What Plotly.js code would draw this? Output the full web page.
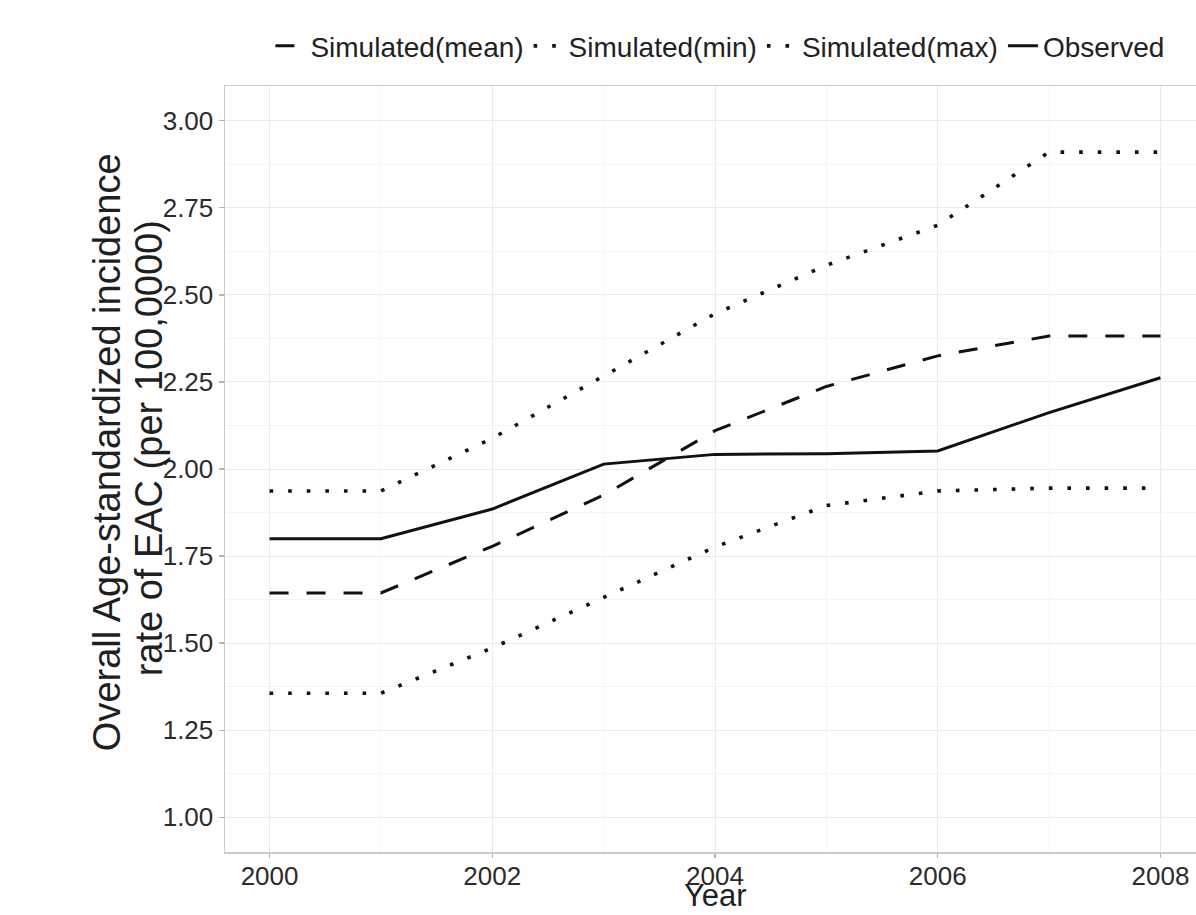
<!DOCTYPE html>
<html>
<head>
<meta charset="utf-8">
<script src="https://cdn.plot.ly/plotly-3.0.1.min.js"></script>
<style>
html, body { margin: 0; padding: 0; overflow: hidden; background: #fff; }
#chart { width: 1210px; height: 915px; }
</style>
</head>
<body>
<div id="chart"></div>
<script>
const years = [2000, 2001, 2002, 2003, 2004, 2005, 2006, 2007, 2008];
const simMean = [1.644, 1.644, 1.778, 1.925, 2.11, 2.237, 2.325, 2.382, 2.382];
const simMin  = [1.356, 1.356, 1.486, 1.63, 1.776, 1.895, 1.937, 1.945, 1.945];
const simMax  = [1.937, 1.937, 2.088, 2.268, 2.446, 2.585, 2.70, 2.91, 2.91];
const observed = [1.80, 1.80, 1.885, 2.014, 2.042, 2.044, 2.052, 2.162, 2.262];
const seriesNames = ["Simulated(mean)", "Simulated(min)", "Simulated(max)", "Observed"];
const xTicks = [2000, 2002, 2004, 2006, 2008];
const yTicks = [1.00, 1.25, 1.50, 1.75, 2.00, 2.25, 2.50, 2.75, 3.00];
const xTitle = "Year";
const yTitleLines = ["Overall Age-standardized incidence", "rate of EAC (per 100,0000)"];

const ink = "#111111";
const traces = [
  {x: years, y: simMean, name: seriesNames[0], mode: "lines", line: {color: ink, width: 3, dash: "19px,18px"}},
  {x: years, y: simMin, name: seriesNames[1], mode: "lines", line: {color: ink, width: 3.6, dash: "3.6px,15px"}},
  {x: years, y: simMax, name: seriesNames[2], mode: "lines", line: {color: ink, width: 3.6, dash: "3.6px,15px"}},
  {x: years, y: observed, name: seriesNames[3], mode: "lines", line: {color: ink, width: 3}}
];

const titleFont = {size: 38, color: "#1f1f1f"};
const layout = {
  width: 1210, height: 915,
  margin: {l: 225, r: 5, t: 86, b: 63, pad: 0},
  paper_bgcolor: "#ffffff",
  plot_bgcolor: "#ffffff",
  font: {family: "Liberation Sans, Arial, sans-serif", color: "#2b2b2b"},
  showlegend: true,
  legend: {
    orientation: "h", x: 0.505, xanchor: "center", y: 1.052, yanchor: "middle",
    font: {size: 28, color: "#222222"}, itemwidth: 30, tracegroupgap: 0,
    bgcolor: "rgba(0,0,0,0)"
  },
  xaxis: {
    range: [1999.6, 2008.4],
    tickvals: xTicks, ticktext: xTicks.map(String),
    ticks: "outside", ticklen: 4, tickwidth: 1.2, tickcolor: "#b3b3b3",
    ticklabelstandoff: -4,
    tickfont: {size: 26, color: "#2b2b2b"},
    showgrid: true, gridcolor: "#ebebeb", gridwidth: 1,
    minor: {dtick: 1, tick0: 2001, showgrid: true, gridcolor: "#f5f5f5", gridwidth: 1, ticks: ""},
    showline: true, linecolor: "#cccccc", linewidth: 1.5, mirror: true,
    zeroline: false
  },
  yaxis: {
    range: [0.9, 3.1],
    tickvals: yTicks, ticktext: yTicks.map(v => v.toFixed(2)),
    ticks: "outside", ticklen: 5, tickwidth: 1.2, tickcolor: "#b3b3b3",
    tickfont: {size: 26, color: "#2b2b2b"},
    showgrid: true, gridcolor: "#ebebeb", gridwidth: 1,
    minor: {dtick: 0.125, tick0: 1.125, showgrid: true, gridcolor: "#f5f5f5", gridwidth: 1, ticks: ""},
    showline: true, linecolor: "#cccccc", linewidth: 1.5, mirror: true,
    zeroline: false
  },
  annotations: [
    {text: xTitle, xref: "paper", yref: "paper", x: 0.5, y: -0.0822, xanchor: "center", yanchor: "bottom",
     showarrow: false, font: {size: 31, color: "#1f1f1f"}},
    {text: yTitleLines[0], xref: "paper", yref: "paper", x: -0.1204, y: 0.522, xanchor: "center", yanchor: "middle",
     textangle: -90, showarrow: false, font: titleFont},
    {text: yTitleLines[1], xref: "paper", yref: "paper", x: -0.0775, y: 0.527, xanchor: "center", yanchor: "middle",
     textangle: -90, showarrow: false, font: titleFont}
  ]
};

Plotly.newPlot("chart", traces, layout, {displayModeBar: false, staticPlot: true});
</script>
</body>
</html>
